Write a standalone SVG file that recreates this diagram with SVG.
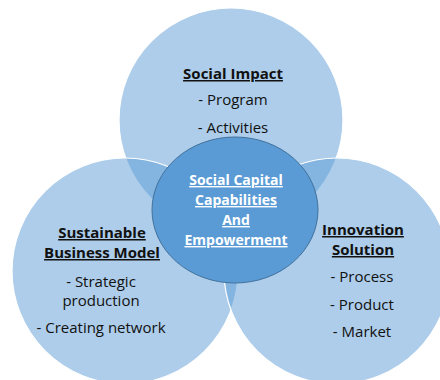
<svg xmlns="http://www.w3.org/2000/svg" width="440" height="380" viewBox="0 0 440 380">
  <style>
    .outer { fill: #5b9bd5; fill-opacity: 0.5; stroke: #ffffff; stroke-width: 1.2; }
    .core { fill: #5b9bd5; stroke: #41719c; stroke-width: 1; }
    text { font-family: "Open Sans", "Liberation Sans", sans-serif; font-size: 15px; text-anchor: middle; fill: #111111; }
    .head { font-weight: bold; text-decoration: underline; }
    .core-label { font-size: 14px; font-weight: bold; text-decoration: underline; fill: #ffffff; }
  </style>
  <rect width="440" height="380" fill="#ffffff"/>

  <g id="social-impact">
    <circle class="outer" cx="231" cy="120" r="112"/>
    <text class="head" x="233" y="79">Social Impact</text>
    <text x="233" y="105">- Program</text>
    <text x="233" y="133">- Activities</text>
  </g>

  <g id="sustainable-business-model">
    <circle class="outer" cx="125" cy="271" r="113"/>
    <text class="head" x="102" y="238">Sustainable</text>
    <text class="head" x="102" y="258">Business Model</text>
    <text x="101" y="287">- Strategic</text>
    <text x="101" y="306">production</text>
    <text x="101" y="333">- Creating network</text>
  </g>

  <g id="innovation-solution">
    <circle class="outer" cx="337" cy="271" r="113"/>
    <text class="head" x="363" y="235">Innovation</text>
    <text class="head" x="363" y="255">Solution</text>
    <text x="362" y="282">- Process</text>
    <text x="362" y="310">- Product</text>
    <text x="362" y="337">- Market</text>
  </g>

  <g id="social-capital">
    <ellipse class="core" cx="235" cy="210" rx="83" ry="73"/>
    <text class="core-label" x="236" y="185">Social Capital</text>
    <text class="core-label" x="236" y="205">Capabilities</text>
    <text class="core-label" x="236" y="225">And</text>
    <text class="core-label" x="236" y="245">Empowerment</text>
  </g>

  <g id="connectors"></g>
</svg>
